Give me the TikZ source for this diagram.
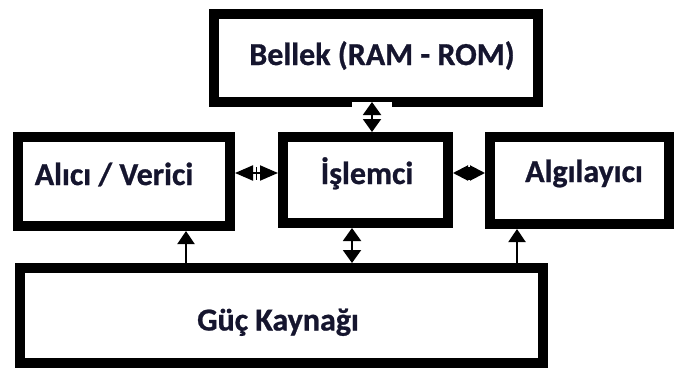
\documentclass[tikz,border=0pt]{standalone}
\usepackage{fontspec}
\setmainfont{Carlito}[BoldFeatures={FakeBold=0.8}]
\usetikzlibrary{arrows.meta}
\definecolor{inkcol}{HTML}{15152E}
\begin{document}
\begin{tikzpicture}[x=1pt,y=-1pt,
  block/.style={draw=black, line width=10pt, fill=white, inner sep=0pt},
  lbl/.style={font=\fontsize{32}{38}\selectfont\bfseries, text=inkcol, anchor=base, inner sep=0pt},
  link/.style={line width=2pt, draw=black},
  hlink/.style={link, {Triangle[length=#1,width=15pt]}-{Triangle[length=#1,width=15pt]}},
  vlink/.style={link, {Triangle[length=13pt,width=18pt]}-{Triangle[length=13pt,width=18pt]}},
  uplink/.style={link, -{Triangle[length=13pt,width=17pt]}},
  midtick/.style={fill=black, inner sep=0pt, minimum width=1.2pt, minimum height=13pt}]
\useasboundingbox (0,0) rectangle (675,367);

% blocks
\node[block, minimum width=324pt, minimum height=88pt] (bellek)   at (376,58)    {};
\node[block, minimum width=212pt, minimum height=89pt] (alici)    at (124,181.5) {};
\node[block, minimum width=165pt, minimum height=86pt] (islemci)  at (365.5,180) {};
\node[block, minimum width=179pt, minimum height=87pt] (algi)     at (579.5,180.5) {};
\node[block, minimum width=523pt, minimum height=95pt] (guc)      at (281.5,315.5) {};

% notch in the memory block's lower edge
\fill[white] ([shift={(-24,-5)}]bellek.south) rectangle ([shift={(16,1)}]bellek.south);

% labels
\node[lbl] at ([shift={(6,7)}]bellek.center)    {Bellek (RAM - ROM)};
\node[lbl] at ([shift={(-10,3.5)}]alici.center) {Alıcı / Verici};
\node[lbl] at ([shift={(1.5,4)}]islemci.center) {İşlemci};
\node[lbl] at ([shift={(4.5,1.5)}]algi.center)  {Algılayıcı};
\node[lbl] at ([shift={(-3.5,15)}]guc.center)   {Güç Kaynağı};

% connector end points
\coordinate (h1) at ([shift={(0,-8.5)}]alici.east);
\coordinate (h2) at ([shift={(0,-7)}]islemci.east);
\coordinate (v1) at ([shift={(-4,-5)}]bellek.south);
\coordinate (v2) at ([shift={(-13.5,0)}]islemci.south);
\coordinate (u1) at ([shift={(62,0)}]alici.south);
\coordinate (u2) at ([shift={(-62.5,0)}]algi.south);

% connectors
\draw[hlink=18pt] (h1) -- node[midtick]{} (h1 -| islemci.west);
\draw[hlink=15pt] (h2) -- node[midtick]{} (h2 -| algi.west);
\draw[vlink] (v1) -- (v1 |- islemci.north);
\draw[vlink] (v2 |- guc.north) -- (v2);
\draw[uplink] (u1 |- guc.north) -- (u1);
\draw[uplink] (u2 |- guc.north) -- (u2);
\end{tikzpicture}
\end{document}
